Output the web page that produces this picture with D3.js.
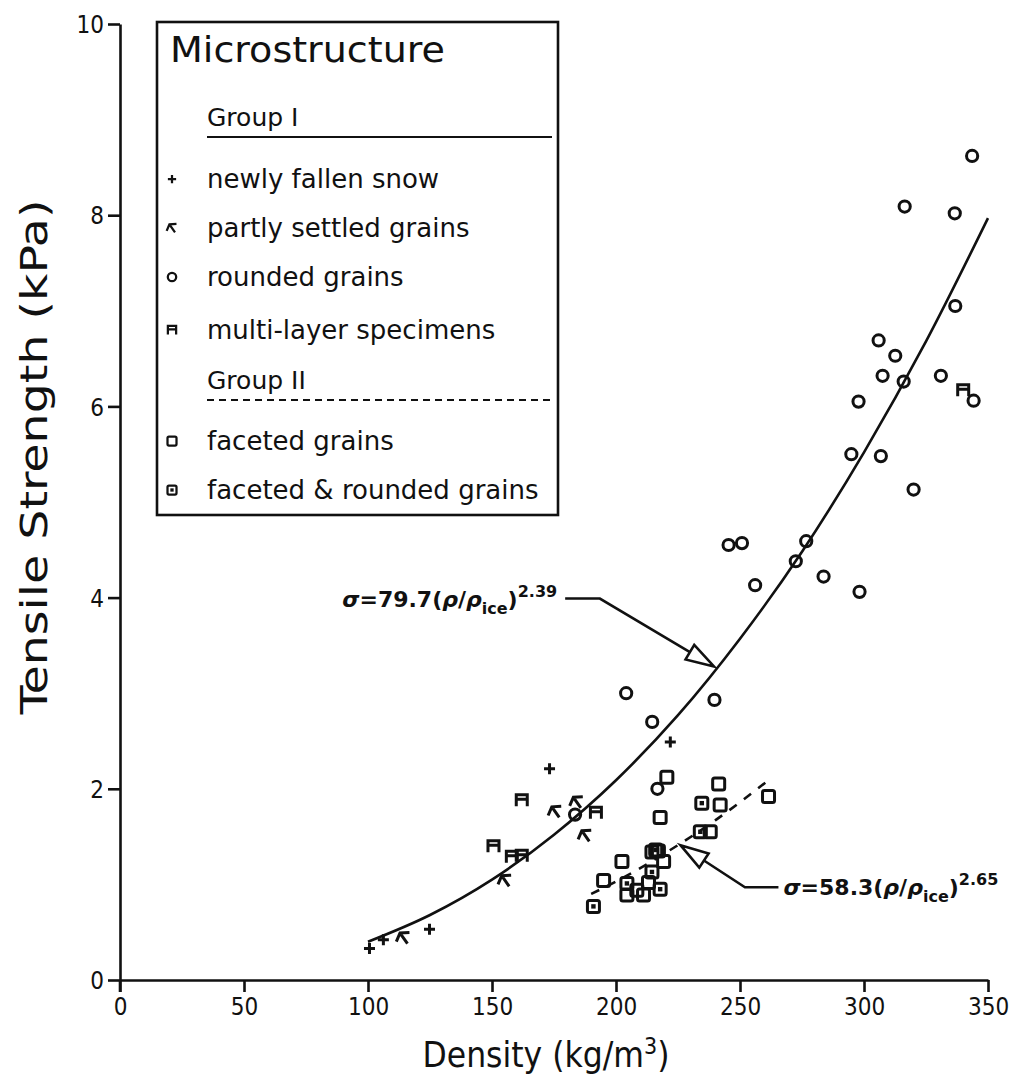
<!DOCTYPE html>
<html>
<head>
<meta charset="utf-8">
<script src="https://cdn.jsdelivr.net/npm/d3@7"></script>
<style>
  body { margin: 0; background: #fff; }
  svg { display: block; }
  .tick text { font-family: 'DejaVu Sans Condensed', 'Liberation Sans Narrow', sans-serif; font-size: 24px; font-weight: 500; }
</style>
</head>
<body>
<div id="area"></div>
<script>
// ---- data ----
var xTicks = [0, 50, 100, 150, 200, 250, 300, 350];
var yTicks = [0, 2, 4, 6, 8, 10];

// fitted curves, sampled along the drawn lines
var groupOneDensity  = [100, 125, 150, 175, 200, 225, 250, 275, 300, 325, 350];
var groupOneStrength = [0.40, 0.68, 1.05, 1.52, 2.09, 2.77, 3.57, 4.48, 5.52, 6.68, 7.97];
var groupTwoDensity  = [190, 200, 220, 240, 262];
var groupTwoStrength = [0.90, 1.03, 1.33, 1.67, 2.10];

// [density, strength]
var newSnow = [[100.6,0.33],[106.2,0.42],[124.8,0.53],[173.2,2.21],[221.9,2.49]];
var partlySettled = [[114.3,0.44],[155.3,1.04],[175.5,1.76],[184.2,1.86],[187.6,1.51]];
var rounded = [[343.6,8.62],[316.4,8.09],[336.6,8.02],[336.8,7.05],[305.9,6.69],[312.6,6.53],
  [307.5,6.32],[316,6.26],[331,6.32],[344.2,6.06],[297.8,6.05],[294.9,5.50],[306.8,5.48],
  [320,5.13],[245.4,4.55],[250.8,4.57],[276.7,4.59],[272.5,4.38],[256.1,4.13],[283.7,4.22],
  [298.2,4.06],[204.1,3.00],[239.7,2.93],[214.6,2.70],[216.7,2.00],[183.5,1.73]];
var multiLayer = [[162,1.88],[150.6,1.40],[158,1.29],[162,1.30],[191.9,1.75],[340,6.17]];
var faceted = [[220.5,2.12],[241.4,2.05],[261.5,1.92],[242,1.83],[217.8,1.70],[238,1.55],
  [214.5,1.34],[217.1,1.35],[219.2,1.24],[202.4,1.24],[195,1.04],[213.1,1.02],[204.4,0.89],
  [211.1,0.89],[208.4,0.94]];
var facetedRounded = [[234.6,1.85],[234,1.55],[214.5,1.13],[204.4,1.01],[217.8,0.95],[190.9,0.77],[216,1.36]];

var legendItems = [
  { label: 'newly fallen snow', sym: 'plus' },
  { label: 'partly settled grains', sym: 'settled' },
  { label: 'rounded grains', sym: 'circle' },
  { label: 'multi-layer specimens', sym: 'multi' },
  { label: 'faceted grains', sym: 'square' },
  { label: 'faceted & rounded grains', sym: 'squaredot' }
];

// annotations: label, start of leader [x,y], arrow tip [x,y] in data units
var notes = [
  { coef: '79.7', exp: '2.39', at: [179.5, 3.99], knee: [193.5, 3.99], tip: [239.5, 3.28], side: 'left' },
  { coef: '58.3', exp: '2.65', at: [265.5, 0.97], knee: [252, 0.97], tip: [226, 1.41], side: 'right' }
];

// ---- canvas ----
var width = 1015, height = 1074;
var svg = d3.select('#area').append('svg').attr('width', width).attr('height', height);

var x = d3.scaleLinear().domain([0, 350]).range([120, 988]);
var y = d3.scaleLinear().domain([0, 10]).range([980, 24]);

var ink = '#111';

// axes
var xAxis = svg.append('g').attr('transform', 'translate(0,' + y(0) + ')')
  .call(d3.axisBottom(x).tickValues(xTicks).tickSize(12).tickSizeOuter(0).tickPadding(6));
var yAxis = svg.append('g').attr('transform', 'translate(' + x(0) + ',0)')
  .call(d3.axisLeft(y).tickValues(yTicks).tickSize(12).tickSizeOuter(0).tickPadding(4));
[xAxis, yAxis].forEach(function(a){
  a.selectAll('path, line').attr('stroke', ink).attr('stroke-width', 2.6);
  a.selectAll('text').attr('fill', ink);
});
yAxis.selectAll('.tick text').attr('dy', '0.36em');
// little stub below origin
svg.append('line').attr('x1', x(0)).attr('x2', x(0)).attr('y1', y(0)).attr('y2', y(0) + 12)
  .attr('stroke', ink).attr('stroke-width', 2.6);

// axis titles
var titleFont = "'DejaVu Sans Condensed', 'DejaVu Sans', sans-serif";
svg.append('text')
  .attr('transform', 'translate(47,' + 457 + ') rotate(-90)')
  .attr('text-anchor', 'middle')
  .attr('textLength', 515).attr('lengthAdjust', 'spacingAndGlyphs')
  .style('font-family', titleFont).style('font-size', '38px').attr('fill', ink)
  .text('Tensile Strength (kPa)');
var xt = svg.append('text')
  .attr('x', 546).attr('y', 1067)
  .attr('text-anchor', 'middle')
  .style('font-family', titleFont).style('font-size', '35px').attr('fill', ink);
xt.append('tspan').text('Density (kg/m');
xt.append('tspan').attr('dy', -13).style('font-size', '23px').text('3');
xt.append('tspan').attr('dy', 13).text(')');

// ---- fitted lines ----
var line = d3.line().x(function(d){ return x(d[0]); }).y(function(d){ return y(d[1]); }).curve(d3.curveMonotoneX);
svg.append('path')
  .datum(d3.zip(groupOneDensity, groupOneStrength))
  .attr('d', line).attr('fill', 'none').attr('stroke', ink).attr('stroke-width', 2.6);
svg.append('path')
  .datum(d3.zip(groupTwoDensity, groupTwoStrength))
  .attr('d', line).attr('fill', 'none').attr('stroke', ink).attr('stroke-width', 2.6)
  .attr('stroke-dasharray', '9,9');

// ---- symbols ----
function drawSymbol(g, sym){
  var st = { fill: 'none', stroke: ink, 'stroke-width': 3 };
  var el;
  if (sym === 'plus') {
    el = g.append('path').attr('d', 'M-5.5,0H5.5M0,-5.5V5.5');
  } else if (sym === 'settled') {
    el = g.append('path').attr('d', 'M-8,-1L0,-6L8,-1M0,-6V7').attr('transform', 'rotate(-35)');
  } else if (sym === 'circle') {
    el = g.append('circle').attr('r', 5.6);
  } else if (sym === 'multi') {
    el = g.append('path').attr('d', 'M-5.5,6V-5.5H5.5V6M-5.5,-1H5.5');
  } else if (sym === 'square' || sym === 'squaredot') {
    el = g.append('rect').attr('x', -6).attr('y', -6).attr('width', 12).attr('height', 12).attr('rx', 2);
    if (sym === 'squaredot') {
      g.append('rect').attr('x', -2.2).attr('y', -2.2).attr('width', 4.4).attr('height', 4.4).attr('fill', ink);
    }
  }
  for (var k in st) el.attr(k, st[k]);
}

function plotSeries(data, sym){
  var grp = svg.append('g');
  data.forEach(function(d){
    var g = grp.append('g').attr('transform', 'translate(' + x(d[0]) + ',' + y(d[1]) + ')');
    drawSymbol(g, sym);
  });
}
plotSeries(rounded, 'circle');
plotSeries(faceted, 'square');
plotSeries(facetedRounded, 'squaredot');
plotSeries(newSnow, 'plus');
plotSeries(partlySettled, 'settled');
plotSeries(multiLayer, 'multi');

// ---- annotations ----
var noteFont = "'DejaVu Sans', sans-serif";
notes.forEach(function(n){
  var tip = [x(n.tip[0]), y(n.tip[1])], knee = [x(n.knee[0]), y(n.knee[1])], at = [x(n.at[0]), y(n.at[1])];
  var ang = Math.atan2(tip[1] - knee[1], tip[0] - knee[0]);
  var L = 28, W = 8.5;
  var bx = tip[0] - L * Math.cos(ang), by = tip[1] - L * Math.sin(ang);
  var px = -Math.sin(ang) * W, py = Math.cos(ang) * W;
  svg.append('path')
    .attr('d', 'M' + at + 'L' + knee + 'L' + bx + ',' + by)
    .attr('fill', 'none').attr('stroke', ink).attr('stroke-width', 2.6);
  svg.append('path')
    .attr('d', 'M' + tip + 'L' + (bx + px) + ',' + (by + py) + 'L' + (bx - px) + ',' + (by - py) + 'Z')
    .attr('fill', '#fff').attr('stroke', ink).attr('stroke-width', 2.6).attr('stroke-linejoin', 'miter');

  var t = svg.append('text')
    .attr('x', n.side === 'left' ? at[0] - 8 : at[0] + 5)
    .attr('y', at[1] + 8)
    .attr('text-anchor', n.side === 'left' ? 'end' : 'start')
    .style('font-family', noteFont).style('font-size', '22px').style('font-weight', 'bold').attr('fill', ink);
  t.append('tspan').style('font-style', 'italic').text('σ');
  t.append('tspan').text('=' + n.coef + '(');
  t.append('tspan').style('font-style', 'italic').text('ρ');
  t.append('tspan').text('/');
  t.append('tspan').style('font-style', 'italic').text('ρ');
  t.append('tspan').attr('dy', 7).style('font-size', '16px').text('ice');
  t.append('tspan').attr('dy', -7).text(')');
  t.append('tspan').attr('dy', -10).style('font-size', '16px').text(n.exp);
});

// ---- legend ----
var legendFont = "'DejaVu Sans', sans-serif";
var lg = svg.append('g');
lg.append('rect').attr('x', 157).attr('y', 22).attr('width', 401).attr('height', 493)
  .attr('fill', '#fff').attr('stroke', ink).attr('stroke-width', 2.6);
lg.append('text').attr('x', 170).attr('y', 62)
  .attr('textLength', 275).attr('lengthAdjust', 'spacingAndGlyphs')
  .style('font-family', legendFont).style('font-size', '36px').attr('fill', ink).text('Microstructure');

function groupHead(label, yy, dashed){
  lg.append('text').attr('x', 207).attr('y', yy)
    .style('font-family', legendFont).style('font-size', '25px').attr('fill', ink).text(label);
  lg.append('line').attr('x1', 207).attr('x2', 552).attr('y1', yy + 11).attr('y2', yy + 11)
    .attr('stroke', ink).attr('stroke-width', 2)
    .attr('stroke-dasharray', dashed ? '7,5' : null);
}
groupHead('Group I', 126, false);
groupHead('Group II', 389, true);

var itemY = [179, 228, 277, 330, 441, 490];
legendItems.forEach(function(it, i){
  var g = lg.append('g').attr('transform', 'translate(172,' + itemY[i] + ') scale(0.75)');
  drawSymbol(g, it.sym);
  lg.append('text').attr('x', 207).attr('y', itemY[i] + 9)
    .style('font-family', legendFont).style('font-size', '26px').attr('fill', ink).text(it.label);
});
</script>
</body>
</html>
